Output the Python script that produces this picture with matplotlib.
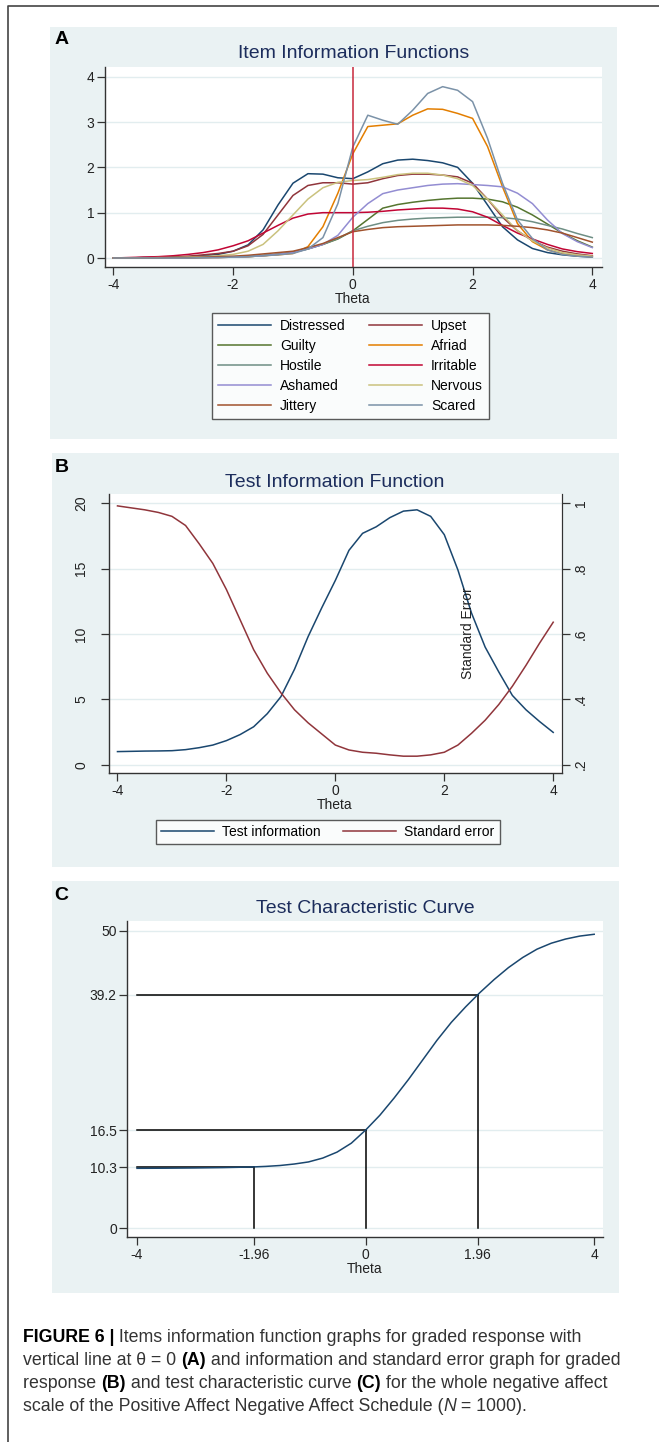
import numpy as np
import matplotlib.pyplot as plt
from matplotlib.lines import Line2D
from matplotlib.patches import Rectangle

plt.rcParams['font.family'] = ['Liberation Sans', 'DejaVu Sans']
plt.rcParams['axes.unicode_minus'] = False

# ---- data -------------------------------------------------------------
# item information curves, theta from -4 to 4 in steps of 0.25
theta_a = np.linspace(-4, 4, 33)
items = ['Distressed', 'Upset', 'Guilty', 'Afriad', 'Hostile',
         'Irritable', 'Ashamed', 'Nervous', 'Jittery', 'Scared']
distressed = [0, 0, 0.01, 0.01, 0.02, 0.03, 0.05, 0.08, 0.15, 0.29, 0.62, 1.17, 1.65,
              1.86, 1.85, 1.77, 1.75, 1.9, 2.08, 2.16, 2.18, 2.15, 2.1, 2.0, 1.65,
              1.17, 0.69, 0.4, 0.21, 0.12, 0.07, 0.04, 0.02]
upset = [0, 0, 0.01, 0.01, 0.02, 0.04, 0.07, 0.1, 0.15, 0.27, 0.52, 0.95, 1.38,
         1.6, 1.66, 1.66, 1.63, 1.66, 1.75, 1.82, 1.85, 1.85, 1.83, 1.79, 1.65,
         1.3, 0.9, 0.6, 0.38, 0.24, 0.15, 0.09, 0.05]
guilty = [0, 0, 0, 0, 0.01, 0.01, 0.01, 0.02, 0.02, 0.03, 0.05, 0.08, 0.13,
          0.2, 0.3, 0.42, 0.6, 0.85, 1.1, 1.18, 1.23, 1.27, 1.3, 1.32, 1.32,
          1.3, 1.24, 1.12, 0.95, 0.75, 0.55, 0.38, 0.24]
afriad = [0, 0, 0, 0, 0, 0, 0.01, 0.01, 0.02, 0.03, 0.05, 0.07, 0.1,
          0.25, 0.69, 1.43, 2.3, 2.9, 2.93, 2.96, 3.15, 3.29, 3.28, 3.19, 3.08,
          2.46, 1.57, 0.76, 0.36, 0.18, 0.09, 0.05, 0.03]
hostile = [0, 0, 0, 0, 0.01, 0.01, 0.01, 0.02, 0.02, 0.04, 0.06, 0.09, 0.12,
           0.2, 0.3, 0.43, 0.6, 0.7, 0.78, 0.83, 0.86, 0.88, 0.89, 0.9, 0.9,
           0.9, 0.89, 0.86, 0.8, 0.72, 0.64, 0.54, 0.45]
irritable = [0, 0.01, 0.02, 0.03, 0.05, 0.08, 0.12, 0.18, 0.27, 0.38, 0.55, 0.72, 0.88,
             0.97, 1.0, 1.0, 1.0, 1.01, 1.03, 1.06, 1.08, 1.1, 1.1, 1.08, 1.02,
             0.9, 0.72, 0.55, 0.42, 0.3, 0.2, 0.14, 0.1]
ashamed = [0, 0, 0, 0, 0, 0.01, 0.01, 0.01, 0.02, 0.03, 0.05, 0.08, 0.12,
           0.2, 0.3, 0.5, 0.9, 1.2, 1.42, 1.5, 1.55, 1.6, 1.63, 1.64, 1.62,
           1.6, 1.57, 1.43, 1.2, 0.84, 0.54, 0.36, 0.23]
nervous = [0, 0, 0, 0.01, 0.01, 0.02, 0.03, 0.05, 0.08, 0.15, 0.3, 0.6, 0.95,
           1.3, 1.55, 1.67, 1.71, 1.73, 1.78, 1.84, 1.87, 1.87, 1.83, 1.75, 1.6,
           1.3, 0.95, 0.6, 0.38, 0.22, 0.12, 0.07, 0.04]
jittery = [0, 0, 0, 0, 0.01, 0.01, 0.02, 0.03, 0.04, 0.06, 0.09, 0.12, 0.15,
           0.23, 0.32, 0.45, 0.58, 0.63, 0.67, 0.69, 0.7, 0.71, 0.72, 0.73, 0.73,
           0.73, 0.72, 0.7, 0.67, 0.62, 0.55, 0.45, 0.35]
scared = [0, 0, 0, 0, 0, 0, 0.01, 0.01, 0.02, 0.03, 0.05, 0.07, 0.1,
          0.2, 0.45, 1.2, 2.45, 3.15, 3.04, 2.95, 3.26, 3.63, 3.78, 3.7, 3.45,
          2.64, 1.65, 0.84, 0.43, 0.18, 0.08, 0.04, 0.02]
item_values = [distressed, upset, guilty, afriad, hostile,
               irritable, ashamed, nervous, jittery, scared]

# test information and standard error
theta_b = np.linspace(-4, 4, 33)
test_info = [1.0, 1.02, 1.04, 1.05, 1.07, 1.15, 1.3, 1.5, 1.84, 2.3, 2.9, 3.9, 5.2,
             7.3, 9.8, 12.0, 14.1, 16.4, 17.7, 18.2, 18.9, 19.4, 19.5, 19.0, 17.6,
             14.9, 11.6, 9.0, 7.1, 5.3, 4.2, 3.3, 2.47]
std_err = [0.992, 0.986, 0.98, 0.972, 0.96, 0.932, 0.876, 0.816, 0.736, 0.644, 0.552,
           0.48, 0.42, 0.368, 0.328, 0.294, 0.26, 0.245, 0.238, 0.235, 0.23, 0.226,
           0.226, 0.23, 0.238, 0.26, 0.296, 0.336, 0.384, 0.44, 0.504, 0.572, 0.636]

# test characteristic curve
theta_c = np.linspace(-4, 4, 33)
tcc = [10.08, 10.09, 10.1, 10.12, 10.14, 10.17, 10.2, 10.25, 10.3, 10.4, 10.55,
       10.8, 11.15, 11.8, 12.8, 14.3, 16.5, 19.0, 21.9, 25.0, 28.3, 31.6, 34.6,
       37.2, 39.6, 41.8, 43.8, 45.5, 46.9, 47.9, 48.6, 49.1, 49.4]
cut_theta = [-1.96, 0, 1.96]
cut_score = [10.3, 16.5, 39.2]

# ---- style ------------------------------------------------------------
colors = ['#1a476f', '#90353b', '#55752f', '#e37e00', '#6e8e84',
          '#c10534', '#938dd2', '#cac27e', '#a0522d', '#7b92a8']
BG = '#eaf2f3'
GRID = '#e2edef'
AXC = '#333333'
TITLE = '#1c2d5c'

W, H = 659, 1442
fig = plt.figure(figsize=(W / 100, H / 100), dpi=100)


def box(x0, y0, x1, y1):
    return [x0 / W, 1 - y1 / H, (x1 - x0) / W, (y1 - y0) / H]


def panel_bg(x0, y0, x1, y1):
    fig.add_artist(Rectangle((x0 / W, 1 - y1 / H), (x1 - x0) / W, (y1 - y0) / H,
                             transform=fig.transFigure, facecolor=BG,
                             edgecolor='none', zorder=-5))


def ftext(x, y, s, **kw):
    return fig.text(x / W, 1 - y / H, s, **kw)


def style(ax):
    ax.set_facecolor('white')
    ax.spines['top'].set_visible(False)
    ax.spines['right'].set_visible(False)
    for s in ['left', 'bottom']:
        ax.spines[s].set_color(AXC)
        ax.spines[s].set_linewidth(1.0)
    ax.tick_params(direction='out', length=5.5, width=0.9, color=AXC,
                   labelsize=10, labelcolor='#222222', pad=2)
    ax.yaxis.grid(True, color=GRID, lw=1.0)
    ax.set_axisbelow(True)


# page border (top and left)
fig.add_artist(Line2D([8 / W, 8 / W, 1], [0, 1 - 6 / H, 1 - 6 / H],
                      transform=fig.transFigure, color='#444444', lw=1.2))

# ---- panel A: item information functions -------------------------------
panel_bg(50, 27, 617, 439)
axA = fig.add_axes(box(104.7, 67.3, 601.7, 267.3))
style(axA)
handles = []
for name, vals, c in zip(items, item_values, colors):
    h, = axA.plot(theta_a, vals, color=c, lw=1.1, label=name)
    handles.append(h)
axA.axvline(0, color='#c8283c', lw=1.1)
axA.set_xlim(-4.145, 4.157)
axA.set_ylim(-0.205, 4.207)
axA.set_xticks([-4, -2, 0, 2, 4])
axA.set_yticks([0, 1, 2, 3, 4])
ftext(62, 40, 'A', fontsize=14, fontweight='bold', ha='center', va='center')
ftext(354, 54, 'Item Information Functions', fontsize=14, color=TITLE,
      ha='center', va='center')
ftext(353, 299, 'Theta', fontsize=10, ha='center', va='center', color='#222222')

# legend filled row by row
order = list(range(0, 10, 2)) + list(range(1, 10, 2))
legA = fig.legend([handles[i] for i in order], [items[i] for i in order],
                  ncol=2, loc='upper left', bbox_to_anchor=(212 / W, 1 - 313 / H),
                  frameon=True, fancybox=False, edgecolor='#333333',
                  fontsize=10, handlelength=3.8, handletextpad=0.65,
                  columnspacing=1.7, labelspacing=0.42, borderpad=0.45,
                  borderaxespad=0)
legA.get_frame().set_linewidth(1.0)

# ---- panel B: test information function --------------------------------
panel_bg(52, 453, 619, 867)
axB = fig.add_axes(box(108.5, 494, 562.2, 773.3))
style(axB)
axB.spines['right'].set_visible(True)
axB.spines['right'].set_color(AXC)
hb1, = axB.plot(theta_b, test_info, color=colors[0], lw=1.1)
axB.set_xlim(-4.165, 4.165)
axB.set_ylim(-0.66, 20.71)
axB.set_xticks([-4, -2, 0, 2, 4])
axB.set_yticks([0, 5, 10, 15, 20])
for lab in axB.get_yticklabels():
    lab.set_rotation(90)
    lab.set_va('center')
axB.tick_params(axis='y', pad=9)

axB2 = axB.twinx()
axB2.spines['right'].set_color(AXC)
for s in ['top', 'left', 'bottom']:
    axB2.spines[s].set_visible(False)
hb2, = axB2.plot(theta_b, std_err, color=colors[1], lw=1.1)
axB2.set_ylim(0.2 - 0.66 / 25, 0.2 + 20.71 / 25)
axB2.set_yticks([0.2, 0.4, 0.6, 0.8, 1.0])
axB2.set_yticklabels(['.2', '.4', '.6', '.8', '1'], rotation=90, va='center')
axB2.tick_params(direction='out', length=5.5, width=0.9, color=AXC,
                 labelsize=10, labelcolor='#222222', pad=3)
axB.text(2.43, 10.08, 'Standard Error', rotation=90, ha='center', va='center',
         fontsize=10, color='#222222')

ftext(62, 467, 'B', fontsize=14, fontweight='bold', ha='center', va='center')
ftext(335, 482, 'Test Information Function', fontsize=14, color=TITLE,
      ha='center', va='center')
ftext(335, 805, 'Theta', fontsize=10, ha='center', va='center', color='#222222')
legB = fig.legend([hb1, hb2], ['Test information', 'Standard error'], ncol=2,
                  loc='upper left', bbox_to_anchor=(156 / W, 1 - 820 / H),
                  frameon=True, fancybox=False, edgecolor='#333333',
                  fontsize=10, handlelength=3.8, handletextpad=0.62,
                  columnspacing=1.6, borderpad=0.35, borderaxespad=0)
legB.get_frame().set_linewidth(1.0)

# ---- panel C: test characteristic curve --------------------------------
panel_bg(52, 881, 619, 1293)
axC = fig.add_axes(box(127.3, 921, 603.2, 1237.3))
style(axC)
axC.plot(theta_c, tcc, color=colors[0], lw=1.1, zorder=3)
for t, s in zip(cut_theta, cut_score):
    axC.plot([-4, t], [s, s], color='black', lw=1.1, zorder=2)
    axC.plot([t, t], [0, s], color='black', lw=1.1, zorder=2)
axC.set_xlim(-4.17, 4.158)
axC.set_ylim(-1.51, 51.63)
axC.set_xticks([-4, -1.96, 0, 1.96, 4])
axC.set_xticklabels(['-4', '-1.96', '0', '1.96', '4'])
axC.set_yticks([0] + cut_score + [50])
axC.set_yticklabels(['0', '10.3', '16.5', '39.2', '50'])
ftext(61, 896, 'C', fontsize=14, fontweight='bold', ha='center', va='center')
ftext(365, 908, 'Test Characteristic Curve', fontsize=14, color=TITLE,
      ha='center', va='center')
ftext(365, 1269, 'Theta', fontsize=10, ha='center', va='center', color='#222222')

# ---- caption ----------------------------------------------------------
renderer = fig.canvas.get_renderer()


def run_width(s, size, kw):
    a = fig.text(0, 0, '|' + s + '|', fontsize=size, **kw)
    b = fig.text(0, 0, '||', fontsize=size, **kw)
    w = a.get_window_extent(renderer).width - b.get_window_extent(renderer).width
    a.remove()
    b.remove()
    return w


NORM = {}
BOLD = {'fontweight': 'bold'}
ITAL = {'fontstyle': 'italic'}
caption = [
    [('FIGURE 6 |', BOLD), (' Items information function graphs for graded response with', NORM)],
    [('vertical line at \u03b8 = 0 ', NORM), ('(A)', BOLD),
     (' and information and standard error graph for graded', NORM)],
    [('response ', NORM), ('(B)', BOLD), (' and test characteristic curve ', NORM),
     ('(C)', BOLD), (' for the whole negative affect', NORM)],
    [('scale of the Positive Affect Negative Affect Schedule (', NORM), ('N', ITAL),
     (' = 1000).', NORM)],
]
cap_size = 12.8
for y, runs in zip([1342, 1365, 1388, 1411], caption):
    x = 23
    for s, kw in runs:
        col = 'black' if kw is BOLD else '#333333'
        ftext(x, y, s, fontsize=cap_size, va='baseline', ha='left', color=col, **kw)
        x += run_width(s, cap_size, kw)

fig.savefig('out.png', dpi=100, facecolor='white')
